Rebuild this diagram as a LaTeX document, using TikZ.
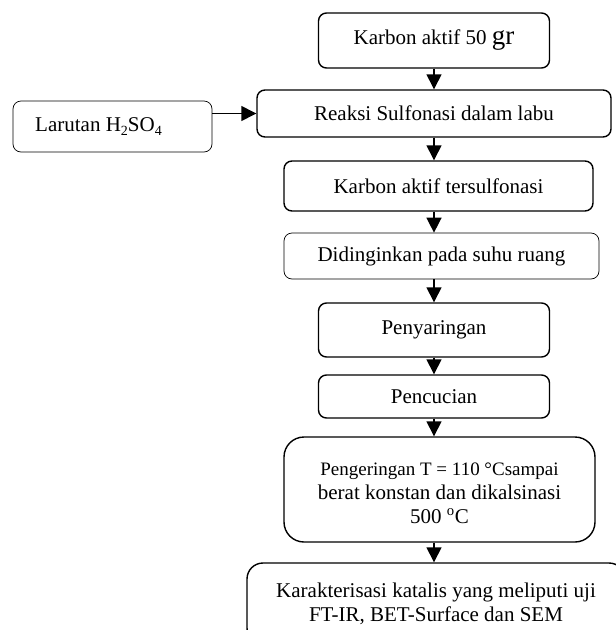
\documentclass[tikz,border=0pt]{standalone}
\usepackage{fontspec}
\setmainfont{Liberation Serif}
\usetikzlibrary{arrows.meta}
\tikzset{
  box/.style={draw, line width=1.4pt, rounded corners=8pt, inner sep=0pt, align=center,
    font=\fontsize{21}{28}\selectfont},
  thinbox/.style={box, line width=0.7pt},
  label text/.style={align=center, inner sep=0pt, font=\fontsize{21}{24}\selectfont},
  arr/.style={line width=1.4pt, -{Triangle[length=15pt,width=15pt]}}
}
\begin{document}
\begin{tikzpicture}[x=1pt,y=-1pt]
\clip (0,0) rectangle (616,630);
\node[box, minimum width=231pt, minimum height=55pt] (b1) at (434,40.5)
  {Karbon aktif 50 {\fontsize{27}{28}\selectfont gr}};
\node[box, minimum width=354pt, minimum height=47pt] (b2) at (434,113.5)
  {Reaksi Sulfonasi dalam labu};
\node[thinbox, minimum width=199pt, minimum height=51pt] (lar) at (112.5,126.5) {};
\node[label text] (lart) at (98.5,126.5)
  {Larutan H\raisebox{-0.2em}{\fontsize{14}{14}\selectfont 2}SO\raisebox{-0.2em}{\fontsize{14}{14}\selectfont 4}};
\node[box, minimum width=309pt, minimum height=50pt] (b3) at (438.5,186)
  {Karbon aktif tersulfonasi};
\node[thinbox, minimum width=315pt, minimum height=46pt] (b4) at (441.5,256)
  {Didinginkan pada suhu ruang};
\node[box, minimum width=231pt, minimum height=54pt] (b5) at (434,330)
  {Penyaringan};
\node[box, minimum width=231pt, minimum height=43pt] (b6) at (434,396.5)
  {Pencucian};
\node[box, rounded corners=20pt, minimum width=311pt, minimum height=105pt] (b7) at (439.5,489.5) {};
\node[label text] (b7t) at (439.5,493)
  {{\fontsize{19}{24}\selectfont Pengeringan T = 110 °Csampai}\\berat konstan dan dikalsinasi\\500 \textsuperscript{o}C};
\node[box, rounded corners=16pt, minimum width=378pt, minimum height=81pt,
  font=\fontsize{21}{24}\selectfont] (b8) at (436,603.5)
  {Karakterisasi katalis yang meliputi uji\\FT-IR, BET-Surface dan SEM};
\draw[arr] (b1.south) -- (b2.north -| b1.south);
\draw[arr] (lar.east |- b2.west) -- (b2.west);
\draw[arr] (b2.south -| b1.south) -- (b3.north -| b1.south);
\draw[arr] (b3.south -| b1.south) -- (b4.north -| b1.south);
\draw[arr] (b4.south -| b1.south) -- (b5.north);
\draw[arr] (b5.south) -- (b6.north);
\draw[arr] (b6.south) -- (b7.north -| b6.south);
\draw[arr] (b7.south -| b6.south) -- (b8.north -| b6.south);
\end{tikzpicture}
\end{document}
